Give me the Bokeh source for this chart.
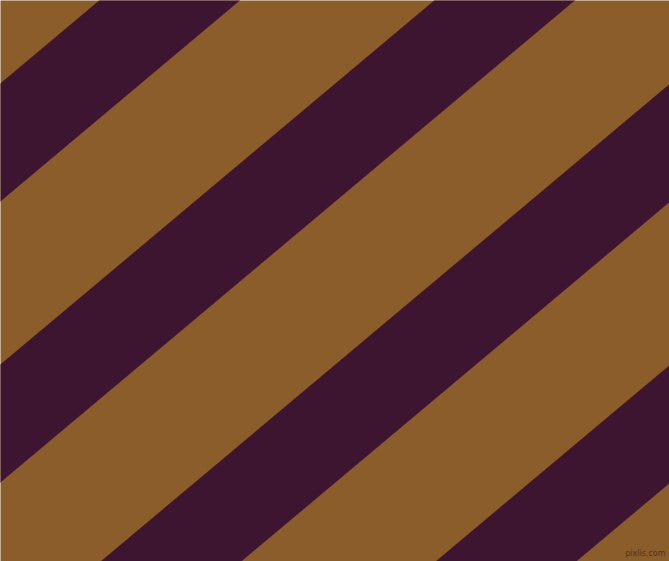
import math
from bokeh.plotting import figure
from bokeh.models import Range1d
from bokeh.core.properties import value
from bokeh.embed import file_html
from bokeh.resources import INLINE

# Reference image space (pixels, y downward)
img_width = 669
img_height = 561
stripe_angle_deg = 40.0
# x positions where each dark stripe begins along the top edge
stripe_starts = [-236, 99, 434, 769, 1104]
stripe_width = 140  # horizontal width of a dark stripe
brown = "#8B5D2B"
purple = "#3E1530"
watermark = "pixlis.com"

t = math.tan(math.radians(stripe_angle_deg))
y_top, y_bot = -60, img_height + 60
xs, ys = [], []
for s in stripe_starts:
    x_at = lambda x0, y: x0 - y / t
    xs.append([x_at(s, y_top), x_at(s + stripe_width, y_top),
               x_at(s + stripe_width, y_bot), x_at(s, y_bot)])
    ys.append([y_top, y_top, y_bot, y_bot])

p = figure(width=img_width, height=img_height, output_backend="svg", toolbar_location=None,
           x_range=Range1d(0, img_width), y_range=Range1d(img_height, 0),
           min_border=0, background_fill_color=brown, border_fill_color=brown,
           outline_line_color=None)
p.axis.visible = False
p.grid.visible = False

p.patches(xs, ys, fill_color=purple, line_color=purple, line_width=0.5)

p.text(x=[665], y=[553], text=[watermark], text_font=value("DejaVu Sans"),
       text_font_size="8px", text_color="#4f3420", text_align="right",
       text_baseline="alphabetic")

open("out.html", "w").write(file_html(p, INLINE))
